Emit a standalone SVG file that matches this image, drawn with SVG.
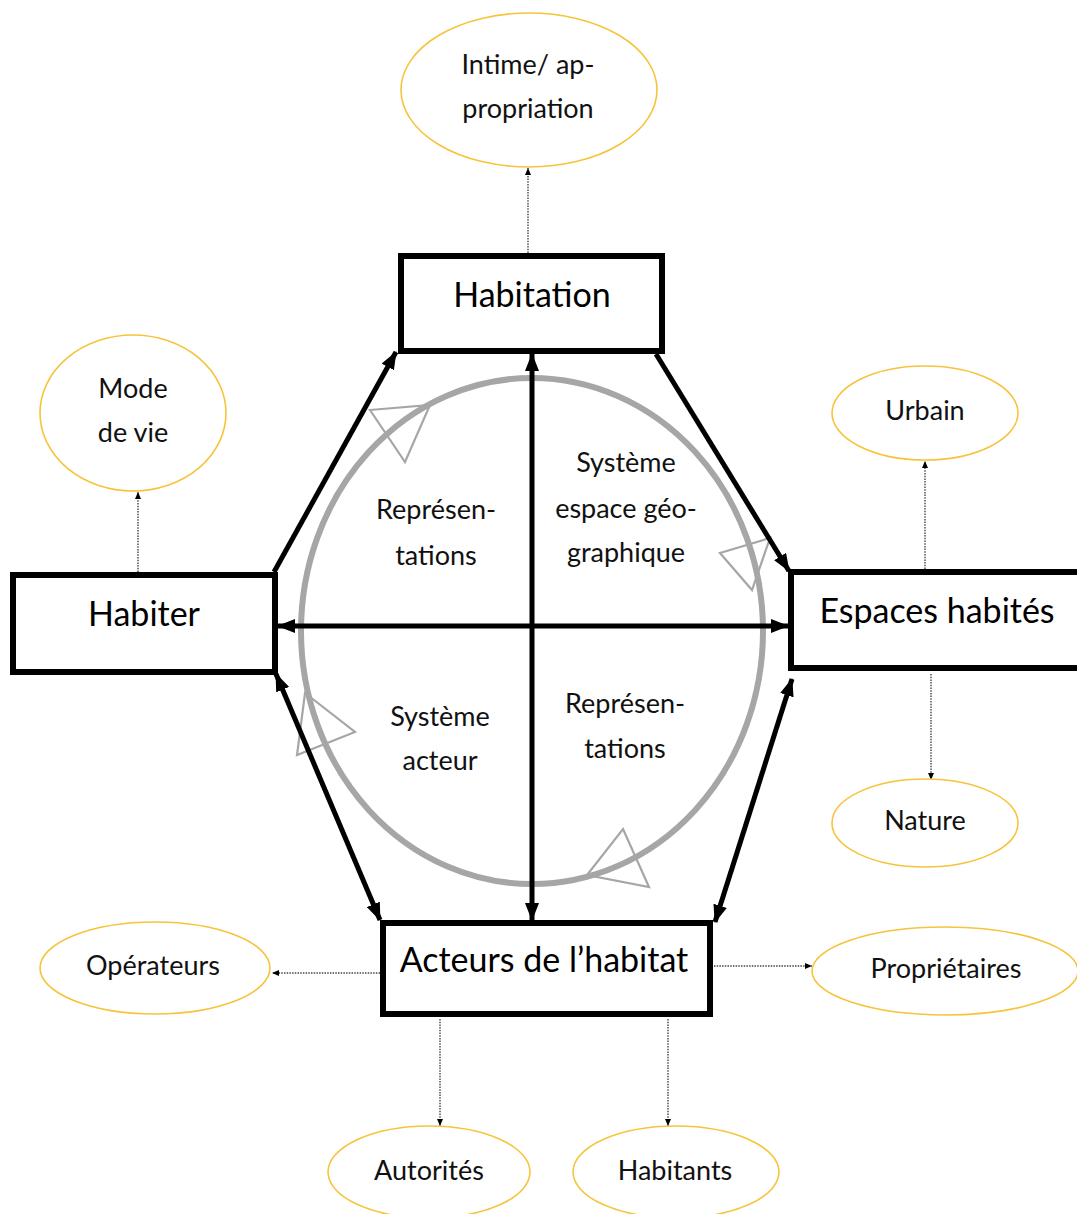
<svg xmlns="http://www.w3.org/2000/svg" width="1077" height="1214" viewBox="0 0 1077 1214">
<style>
.box{fill:#fff;stroke:#000;stroke-width:6}
.oval{fill:#fff;stroke:#f6c33a;stroke-width:1.6}
.big{font-family:Lato,"Open Sans",sans-serif;font-size:34px;fill:#000;text-anchor:middle}
.sm{font-family:Lato,"Open Sans",sans-serif;font-size:27px;fill:#111;text-anchor:middle}
.thick{stroke:#000;stroke-width:5;fill:none}
.dot{stroke:#444;stroke-width:1.4;stroke-dasharray:1.5 1.2;fill:none}
.tri{fill:none;stroke:#a6a6a6;stroke-width:2.2}
</style>
<defs>
<marker id="ah" markerUnits="userSpaceOnUse" markerWidth="18" markerHeight="14" refX="17" refY="7" orient="auto-start-reverse" viewBox="0 0 18 14">
<path d="M0,0 L18,7 L0,14 z" fill="#000"/>
</marker>
<marker id="sh" markerUnits="userSpaceOnUse" markerWidth="7" markerHeight="6" refX="7" refY="3" orient="auto" viewBox="0 0 7 6">
<path d="M0,0 L7,3 L0,6 z" fill="#000"/>
</marker>
</defs>
<rect width="1077" height="1214" fill="#fff"/>

<g id="cycle">
<ellipse cx="532" cy="631" rx="231" ry="253" fill="none" stroke="#a6a6a6" stroke-width="6"/>
<polygon class="tri" points="370,410 430,405 405,462"/>
<polygon class="tri" points="720,553 770,538 752,590"/>
<polygon class="tri" points="305,693 355,732 297,755"/>
<polygon class="tri" points="623,829 649,887 587,875"/>
</g>

<g id="connectors">
<line class="thick" x1="274" y1="572" x2="396" y2="352" marker-end="url(#ah)"/>
<line class="thick" x1="656" y1="354" x2="789" y2="571" marker-end="url(#ah)"/>
<line class="thick" x1="276" y1="674" x2="380" y2="920" marker-start="url(#ah)" marker-end="url(#ah)"/>
<line class="thick" x1="792" y1="679" x2="715" y2="922" marker-start="url(#ah)" marker-end="url(#ah)"/>
<line class="thick" x1="532" y1="354" x2="532" y2="920" marker-start="url(#ah)" marker-end="url(#ah)"/>
<line class="thick" x1="278" y1="626" x2="788" y2="626" marker-start="url(#ah)" marker-end="url(#ah)"/>
<line class="dot" x1="528" y1="253" x2="528" y2="168" marker-end="url(#sh)"/>
<line class="dot" x1="138" y1="572" x2="138" y2="492" marker-end="url(#sh)"/>
<line class="dot" x1="925" y1="569" x2="925" y2="461" marker-end="url(#sh)"/>
<line class="dot" x1="931" y1="674" x2="931" y2="780" marker-end="url(#sh)"/>
<line class="dot" x1="380" y1="973" x2="272" y2="973" marker-end="url(#sh)"/>
<line class="dot" x1="714" y1="966" x2="812" y2="966" marker-end="url(#sh)"/>
<line class="dot" x1="440" y1="1019" x2="440" y2="1126" marker-end="url(#sh)"/>
<line class="dot" x1="668" y1="1019" x2="668" y2="1126" marker-end="url(#sh)"/>
</g>

<g id="quadrant-labels">
<text class="sm" x="436" y="519">Représen-</text>
<text class="sm" x="436" y="565">tations</text>
<text class="sm" x="626" y="472">Système</text>
<text class="sm" x="626" y="518">espace géo-</text>
<text class="sm" x="626" y="562">graphique</text>
<text class="sm" x="440" y="726">Système</text>
<text class="sm" x="440" y="770">acteur</text>
<text class="sm" x="625" y="713">Représen-</text>
<text class="sm" x="625" y="758">tations</text>
</g>

<g id="habitation">
<rect class="box" x="401" y="256" width="261" height="95"/>
<text class="big" x="532" y="307">Habitation</text>
</g>
<g id="habiter">
<rect class="box" x="13" y="575" width="262" height="97"/>
<text class="big" x="144" y="626">Habiter</text>
</g>
<g id="espaces">
<rect class="box" x="791" y="572" width="300" height="96"/>
<text class="big" x="937" y="623">Espaces habités</text>
</g>
<g id="acteurs">
<rect class="box" x="383" y="923" width="327" height="91"/>
<text class="big" x="544" y="972">Acteurs de l’habitat</text>
</g>

<g id="intime">
<ellipse class="oval" cx="529" cy="90" rx="128" ry="77"/>
<text class="sm" x="528" y="74">Intime/ ap-</text>
<text class="sm" x="528" y="118">propriation</text>
</g>
<g id="mode-de-vie">
<ellipse class="oval" cx="133" cy="413" rx="93" ry="78"/>
<text class="sm" x="133" y="398">Mode</text>
<text class="sm" x="133" y="442">de vie</text>
</g>
<g id="urbain">
<ellipse class="oval" cx="925" cy="413" rx="93" ry="47"/>
<text class="sm" x="925" y="420">Urbain</text>
</g>
<g id="nature">
<ellipse class="oval" cx="925" cy="823" rx="93" ry="44"/>
<text class="sm" x="925" y="830">Nature</text>
</g>
<g id="operateurs">
<ellipse class="oval" cx="155" cy="968" rx="115" ry="46"/>
<text class="sm" x="153" y="975">Opérateurs</text>
</g>
<g id="proprietaires">
<ellipse class="oval" cx="945" cy="971" rx="133" ry="44"/>
<text class="sm" x="946" y="978">Propriétaires</text>
</g>
<g id="autorites">
<ellipse class="oval" cx="429" cy="1172" rx="101" ry="46"/>
<text class="sm" x="429" y="1180">Autorités</text>
</g>
<g id="habitants">
<ellipse class="oval" cx="676" cy="1172" rx="103" ry="46"/>
<text class="sm" x="675" y="1180">Habitants</text>
</g>
</svg>
